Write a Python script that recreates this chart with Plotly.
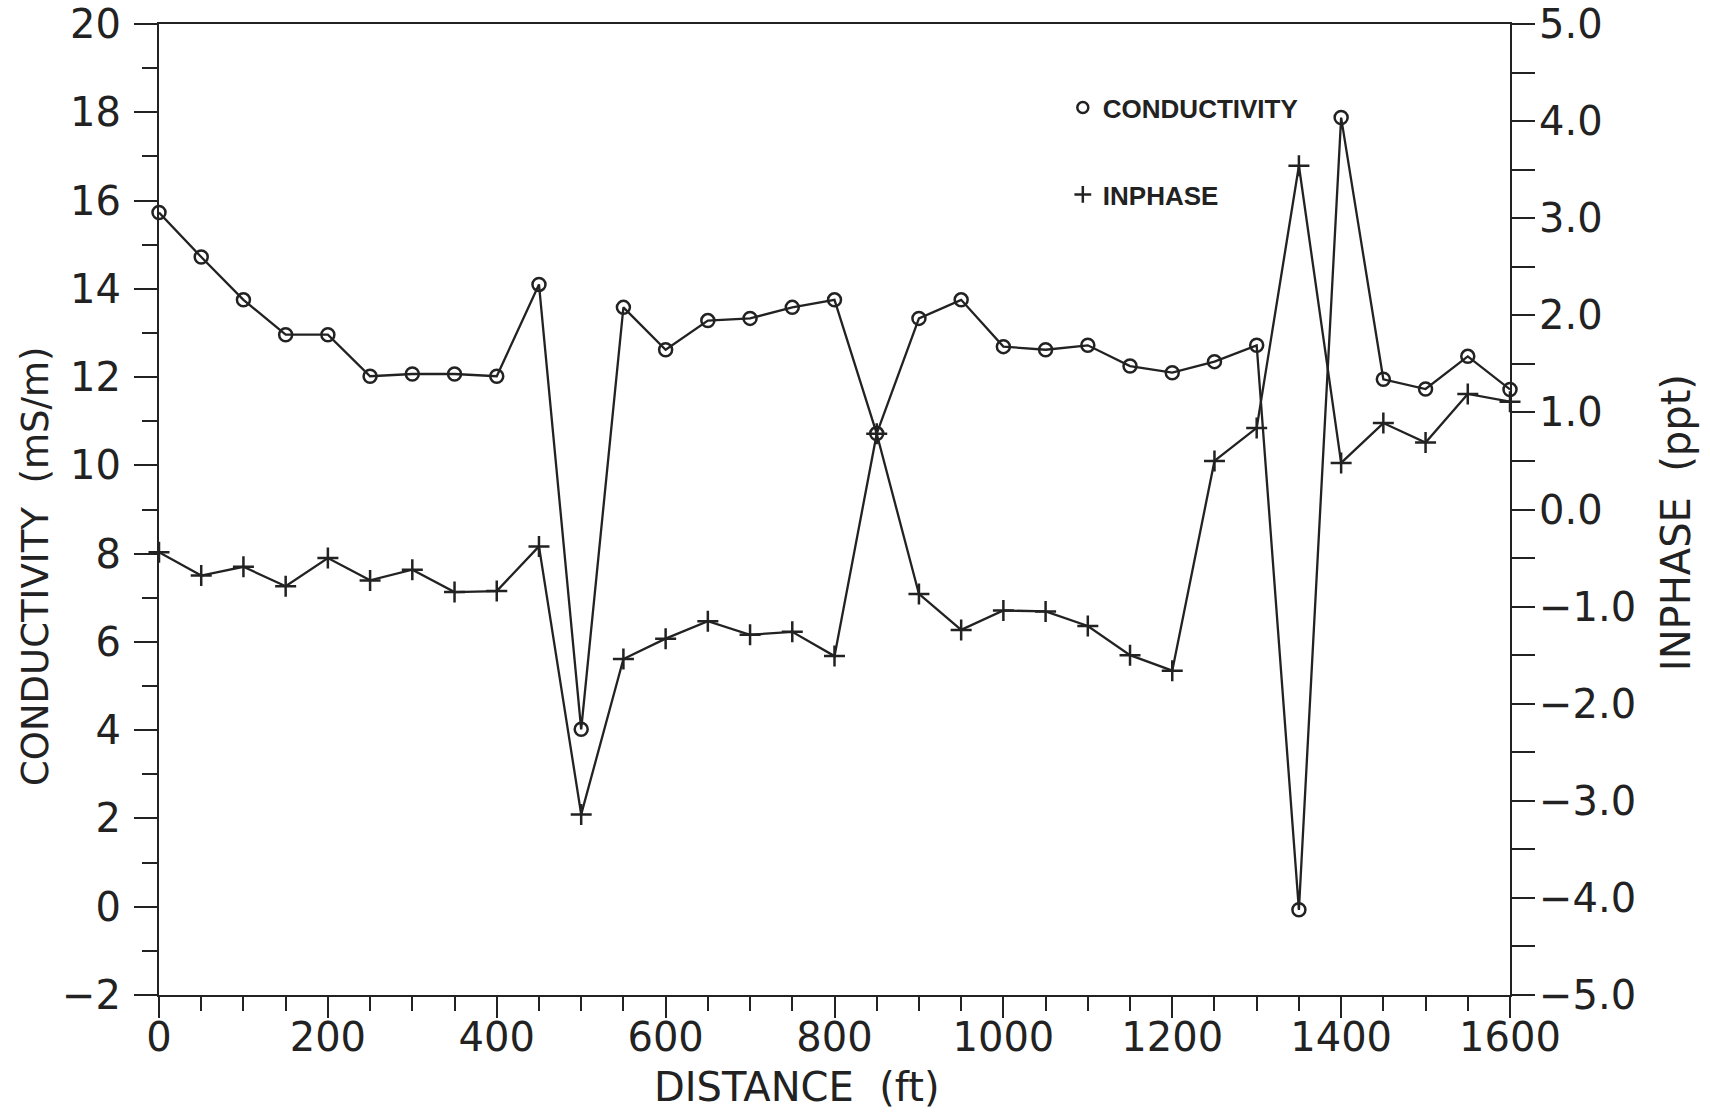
import plotly.graph_objects as go

distance = [0, 50, 100, 150, 200, 250, 300, 350, 400, 450, 500, 550, 600, 650, 700, 750, 800,
            850, 900, 950, 1000, 1050, 1100, 1150, 1200, 1250, 1300, 1350, 1400, 1450, 1500, 1550, 1600]

conductivity = [15.73, 14.72, 13.75, 12.96, 12.96, 12.02, 12.07, 12.07, 12.02, 14.10, 4.02, 13.58,
                12.62, 13.28, 13.33, 13.58, 13.75, 10.72, 13.33, 13.75, 12.69, 12.62, 12.72, 12.25,
                12.10, 12.35, 12.72, -0.07, 17.88, 11.95, 11.73, 12.47, 11.72]

inphase = [-0.44, -0.68, -0.59, -0.79, -0.50, -0.73, -0.62, -0.85, -0.84, -0.38, -3.14, -1.54,
           -1.33, -1.15, -1.29, -1.26, -1.51, 0.78, -0.87, -1.24, -1.04, -1.05, -1.20, -1.50,
           -1.66, 0.50, 0.84, 3.54, 0.48, 0.89, 0.69, 1.19, 1.11]

x_ticks = [0, 200, 400, 600, 800, 1000, 1200, 1400, 1600]
y1_ticks = [-2, 0, 2, 4, 6, 8, 10, 12, 14, 16, 18, 20]
y2_ticks = [-5, -4, -3, -2, -1, 0, 1, 2, 3, 4, 5]

INK = "#222222"
FONT = "DejaVu Sans"

fig = go.Figure()

fig.add_trace(go.Scatter(
    x=distance, y=conductivity, mode="lines+markers", name="CONDUCTIVITY",
    line=dict(color=INK, width=2.3),
    marker=dict(symbol="circle-open", size=13, color=INK, line=dict(width=2.5, color=INK)),
    cliponaxis=False, showlegend=False, yaxis="y"))

fig.add_trace(go.Scatter(
    x=distance, y=inphase, mode="lines+markers", name="INPHASE",
    line=dict(color=INK, width=2.3),
    marker=dict(symbol="cross-thin-open", size=15, color=INK, line=dict(width=2.5, color=INK)),
    cliponaxis=False, showlegend=False, yaxis="y2"))

# legend-only entries (markers only, as in the original key)
fig.add_trace(go.Scatter(
    x=[None], y=[None], mode="markers", name="CONDUCTIVITY", legendgroup="a",
    marker=dict(symbol="circle-open", size=11, color=INK, line=dict(width=2.5, color=INK))))
fig.add_trace(go.Scatter(
    x=[None], y=[None], mode="markers", name="INPHASE", legendgroup="b",
    marker=dict(symbol="cross-thin-open", size=12, color=INK, line=dict(width=2.5, color=INK))))

axis_common = dict(
    showline=True, linecolor=INK, linewidth=2, showgrid=False, zeroline=False,
    ticks="outside", tickcolor=INK, tickwidth=2, automargin=False,
    tickfont=dict(family=FONT, size=40, color=INK),
)

fig.update_layout(
    width=1710, height=1112,
    margin=dict(l=159, r=200, t=24, b=117),
    paper_bgcolor="white", plot_bgcolor="white",
    font=dict(family=FONT, color=INK),
    xaxis=dict(
        **axis_common, range=[0, 1600], mirror=True,
        tickvals=x_ticks, ticklen=21, ticklabelstandoff=-15,
        minor=dict(dtick=50, ticklen=14, ticks="outside", tickcolor=INK, tickwidth=2),
    ),
    yaxis=dict(
        **axis_common, range=[-2, 20], tickvals=y1_ticks, ticklen=23, ticklabelstandoff=5,
        minor=dict(dtick=1, ticklen=15, ticks="outside", tickcolor=INK, tickwidth=2),
    ),
    yaxis2=dict(
        **axis_common, range=[-5, 5], overlaying="y", side="right", anchor="x",
        tickvals=y2_ticks, tickformat=".1f", ticklen=23, ticklabelstandoff=-4,
        minor=dict(dtick=0.5, ticklen=23, ticks="outside", tickcolor=INK, tickwidth=2),
    ),
    legend=dict(
        x=0.669, y=0.938, xanchor="left", yanchor="top",
        font=dict(family="Liberation Sans", size=26, color=INK, weight="bold"),
        traceorder="grouped", tracegroupgap=50, bgcolor="rgba(0,0,0,0)",
        itemwidth=30,
    ),
    annotations=[
        dict(text="DISTANCE\u00a0\u00a0(ft)", xref="paper", yref="paper", x=0.472, y=-0.0947,
             xanchor="center", yanchor="middle",
             showarrow=False, font=dict(family=FONT, size=40, color=INK)),
        dict(text="CONDUCTIVITY\u00a0\u00a0(mS/m)", xref="paper", yref="paper", x=-0.091, y=0.4408,
             xanchor="center", yanchor="middle",
             showarrow=False, textangle=-90, font=dict(family=FONT, size=37, color=INK)),
        dict(text="INPHASE\u00a0\u00a0(ppt)", xref="paper", yref="paper", x=1.1229, y=0.486,
             xanchor="center", yanchor="middle",
             showarrow=False, textangle=-90, font=dict(family=FONT, size=40, color=INK)),
    ],
)

fig.write_html("out.html")
